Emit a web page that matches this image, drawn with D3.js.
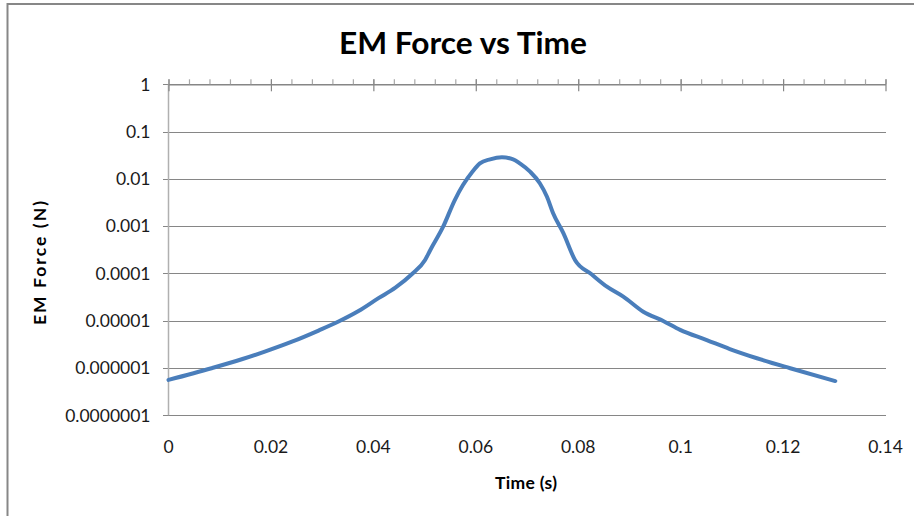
<!DOCTYPE html>
<html>
<head>
<meta charset="utf-8">
<script src="https://cdn.jsdelivr.net/npm/d3@7"></script>
<style>
  html, body { margin: 0; padding: 0; background: #fff; }
  svg { display: block; }
</style>
</head>
<body>
<svg id="chart" width="914" height="516"></svg>
<script>
// ---- Data ----
const times = [0, 0.0084, 0.0143, 0.0188, 0.0241, 0.0293, 0.0332, 0.0371, 0.0410, 0.0443, 0.0475, 0.0501,
  0.0511, 0.0536, 0.0559, 0.0575, 0.0593, 0.0608, 0.0628, 0.0651, 0.0673, 0.0686, 0.0706, 0.0725,
  0.0739, 0.0751, 0.0771, 0.0794, 0.0826, 0.0856, 0.0888, 0.0927, 0.0966, 0.0999, 0.1051, 0.1096,
  0.1149, 0.1214, 0.1302];
const forces = [5.6e-7, 9.9e-7, 1.53e-6, 2.22e-6, 3.6e-6, 6.2e-6, 9.6e-6, 1.6e-5, 3.0e-5, 5.0e-5, 9.6e-5, 1.93e-4,
  3.1e-4, 9.6e-4, 3.57e-3, 7.4e-3, 0.0140, 0.0213, 0.0259, 0.0286, 0.0259, 0.0213, 0.0142, 8.1e-3,
  4.2e-3, 1.87e-3, 7.1e-4, 1.9e-4, 9.6e-5, 5.25e-5, 3.23e-5, 1.55e-5, 9.9e-6, 6.4e-6, 3.9e-6, 2.52e-6,
  1.61e-6, 9.9e-7, 5.3e-7];
const yTickValues = [1, 0.1, 0.01, 0.001, 0.0001, 0.00001, 0.000001, 0.0000001];
const yTickLabels = ["1", "0.1", "0.01", "0.001", "0.0001", "0.00001", "0.000001", "0.0000001"];
const xTickValues = [0, 0.02, 0.04, 0.06, 0.08, 0.1, 0.12, 0.14];
const xTickLabels = ["0", "0.02", "0.04", "0.06", "0.08", "0.1", "0.12", "0.14"];
const xMinorValues = d3.range(0, 36).map(i => i * 0.004);
const titleText = "EM Force vs Time";
const xTitle = "Time (s)";
const yTitle = "EM Force (N)";

// ---- Layout ----
const plot = { left: 168.5, right: 885.5, top: 84.3, bottom: 415.3 };
const svg = d3.select("#chart");
const FONT = "Lato, 'Liberation Sans', Arial, sans-serif";

const x = d3.scaleLinear().domain([0, 0.14]).range([plot.left, plot.right]);
const y = d3.scaleLog().domain([1e-7, 1]).range([plot.bottom, plot.top]);

// Outer chart border (extends off right/bottom in the reference)
svg.append("rect")
  .attr("x", 7.5).attr("y", 4).attr("width", 930).attr("height", 540)
  .attr("fill", "none").attr("stroke", "#878787").attr("stroke-width", 2);

// Horizontal gridlines (with outside ticks on the left)
const yAxis = d3.axisLeft(y)
  .tickValues(yTickValues)
  .tickSize(-(plot.right - plot.left))
  .tickFormat("");
const gy = svg.append("g").attr("transform", `translate(${plot.left},0)`).call(yAxis);
gy.select(".domain").remove();
gy.selectAll(".tick line").attr("stroke", "#868686").attr("stroke-width", 1).attr("x1", -6).attr("shape-rendering", "crispEdges");

// Y tick labels
svg.append("g").selectAll("text").data(yTickValues).join("text")
  .attr("x", plot.left - 18)
  .attr("y", d => y(d))
  .attr("dy", "0.36em")
  .attr("text-anchor", "end")
  .attr("font-family", FONT)
  .attr("font-size", 17.5)
  .attr("fill", "#1a1a1a")
  .text((d, i) => yTickLabels[i]);

// Vertical axis line
svg.append("line")
  .attr("x1", plot.left).attr("x2", plot.left)
  .attr("y1", plot.top).attr("y2", plot.bottom)
  .attr("stroke", "#b0b0b0").attr("stroke-width", 1.5);

// Top horizontal axis (crosses at y = 1): minor ticks up, major ticks crossing
const gTopMinor = svg.append("g").attr("transform", `translate(0,${plot.top})`)
  .call(d3.axisTop(x).tickValues(xMinorValues).tickSize(5).tickSizeOuter(0).tickFormat(""));
gTopMinor.select(".domain").attr("stroke", "#868686").attr("stroke-width", 1.5);
gTopMinor.selectAll(".tick line").attr("stroke", "#a8a8a8").attr("stroke-width", 1.2);

const gTopMajor = svg.append("g").attr("transform", `translate(0,${plot.top})`)
  .call(d3.axisBottom(x).tickValues(xTickValues).tickSize(7).tickSizeOuter(0).tickFormat(""));
gTopMajor.select(".domain").remove();
gTopMajor.selectAll(".tick line").attr("y1", -5).attr("stroke", "#868686").attr("stroke-width", 1.2);

// X tick labels (low position, below plot)
svg.append("g").selectAll("text").data(xTickValues).join("text")
  .attr("x", d => x(d))
  .attr("y", 452.5)
  .attr("text-anchor", "middle")
  .attr("font-family", FONT)
  .attr("font-size", 17.5)
  .attr("fill", "#1a1a1a")
  .text((d, i) => xTickLabels[i]);

// Series line
const line = d3.line()
  .x((d, i) => x(times[i]))
  .y(d => y(d))
  .curve(d3.curveMonotoneX);
svg.append("path")
  .datum(forces)
  .attr("d", line)
  .attr("fill", "none")
  .attr("stroke", "#4a7ebb")
  .attr("stroke-width", 4)
  .attr("stroke-linejoin", "round")
  .attr("stroke-linecap", "round");

// Title
const t = svg.append("text")
  .attr("x", 463).attr("y", 54)
  .attr("text-anchor", "middle")
  .attr("font-family", FONT)
  .attr("font-weight", "bold")
  .attr("font-size", 31)
  .attr("fill", "#000")
  .text(titleText);
if (t.node().getComputedTextLength() > 0) t.attr("textLength", 248).attr("lengthAdjust", "spacingAndGlyphs");

// Axis titles
svg.append("text")
  .attr("x", 526).attr("y", 489)
  .attr("text-anchor", "middle")
  .attr("font-family", FONT)
  .attr("font-weight", "bold")
  .attr("font-size", 17.5)
  .attr("fill", "#000")
  .attr("textLength", 62).attr("lengthAdjust", "spacing")
  .text(xTitle);

svg.append("text")
  .attr("transform", "translate(46,263) rotate(-90)")
  .attr("text-anchor", "middle")
  .attr("font-family", FONT)
  .attr("font-weight", "bold")
  .attr("font-size", 17.5)
  .attr("fill", "#000")
  .attr("textLength", 124).attr("lengthAdjust", "spacing")
  .text(yTitle);
</script>
</body>
</html>
